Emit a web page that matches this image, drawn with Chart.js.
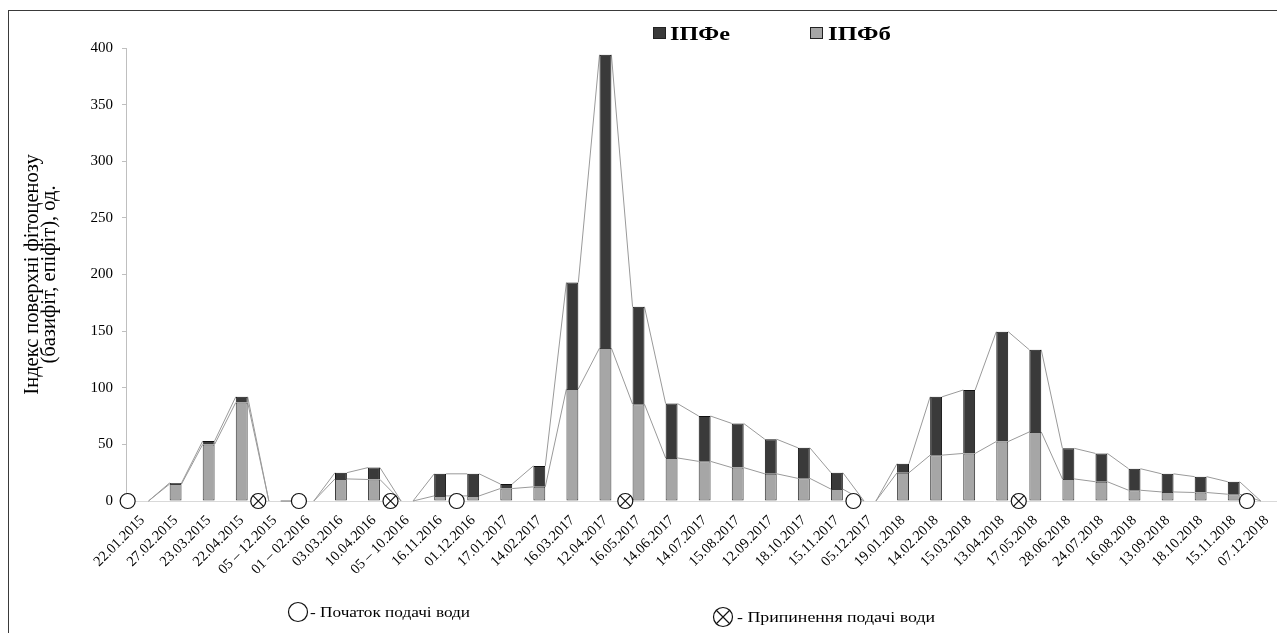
<!DOCTYPE html>
<html>
<head>
<meta charset="utf-8">
<title>Індекс поверхні фітоценозу</title>
<script src="https://cdn.jsdelivr.net/npm/chart.js@4/dist/chart.umd.min.js"></script>
<style>
  html, body { margin: 0; padding: 0; background: #fff; overflow: hidden; }
  #wrap { position: relative; width: 1277px; height: 633px; overflow: hidden; background: #fff; }
  #wrap canvas { position: absolute; left: 0; top: 0; }
  #frame {
    position: absolute; left: 8px; top: 10px; right: -20px; bottom: -20px;
    border-left: 1.5px solid #3a3a3a; border-top: 1.5px solid #3a3a3a;
    pointer-events: none;
  }
</style>
</head>
<body>
<div id="wrap">
  <canvas id="chart" width="1292" height="633"></canvas>
  <div id="frame"></div>
</div>
<script>
// Sampling dates (x categories)
const dates = [
  '22.01.2015', '27.02.2015', '23.03.2015', '22.04.2015', '05 – 12.2015',
  '01 – 02.2016', '03.03.2016', '10.04.2016', '05 – 10.2016', '16.11.2016',
  '01.12.2016', '17.01.2017', '14.02.2017', '16.03.2017', '12.04.2017',
  '16.05.2017', '14.06.2017', '14.07.2017', '15.08.2017', '12.09.2017',
  '18.10.2017', '15.11.2017', '05.12.2017', '19.01.2018', '14.02.2018',
  '15.03.2018', '13.04.2018', '17.05.2018', '28.06.2018', '24.07.2018',
  '16.08.2018', '13.09.2018', '18.10.2018', '15.11.2018', '07.12.2018'
];

// Basiphyton surface index (lower part of each column)
const basiphyton = [
  0, 15, 50, 87, 0,
  0, 19.5, 19, 0, 4.5,
  4.5, 11, 12.5, 99, 135,
  85.5, 38, 35, 29.5, 24,
  20, 10.5, 0, 25, 40.5,
  42, 52.5, 61, 19.5, 17,
  9.5, 8, 7.5, 6, 0
];

// Epiphyton surface index (upper part of each column)
const epiphyton = [
  0, 1, 3, 5, 0,
  0, 5.5, 10.5, 0, 19.5,
  19.5, 4, 18.5, 94, 259,
  86, 48, 40, 39, 30.5,
  27, 14.5, 0, 8, 51.5,
  56, 97, 72.5, 27, 25,
  19, 16, 14, 11, 0
];

// Value axis ticks
const yTicks = [0, 50, 100, 150, 200, 250, 300, 350, 400];

// Water supply events, in category-index units along the date axis
const waterStartAt = [-0.45, 4.73, 9.5, 21.5, 33.4];
const waterStopAt = [3.5, 7.5, 14.6, 26.5];

const seriesNames = { epi: 'ІПФе', basi: 'ІПФб' };
const axisTitle = ['Індекс поверхні фітоценозу', '(базифіт, епіфіт), од.'];
const noteStart = '- Початок подачі води';
const noteStop = '- Припинення подачі води';

const COLOR_EPI = '#3a3a3a';
const COLOR_BASI = '#a6a6a6';
const SERIF = "'Liberation Serif', 'Times New Roman', serif";

// Draws text squeezed/stretched horizontally to a given width
function fitText(ctx, text, x, baseline, font, width) {
  ctx.save();
  ctx.font = font;
  const w = ctx.measureText(text).width;
  ctx.translate(x, baseline);
  ctx.scale(width / w, 1);
  ctx.textAlign = 'left';
  ctx.textBaseline = 'alphabetic';
  ctx.fillStyle = '#000';
  ctx.fillText(text, 0, 0);
  ctx.restore();
}

// Thin lines joining the tops of neighbouring columns of each series
const seriesLines = {
  id: 'seriesLines',
  beforeDatasetsDraw(chart) {
    const ctx = chart.ctx;
    ctx.save();
    ctx.strokeStyle = '#9a9a9a';
    ctx.lineWidth = 1;
    [0, 1].forEach(di => {
      const els = chart.getDatasetMeta(di).data;
      ctx.beginPath();
      for (let i = 0; i < els.length - 1; i++) {
        const a = els[i].getProps(['x', 'y', 'width'], true);
        const b = els[i + 1].getProps(['x', 'y', 'width'], true);
        ctx.moveTo(a.x + a.width / 2, a.y);
        ctx.lineTo(b.x - b.width / 2, b.y);
      }
      ctx.stroke();
    });
    ctx.restore();
  }
};

// Legend at the top and the symbol key below the chart
const keyPlugin = {
  id: 'keyPlugin',
  afterDraw(chart) {
    const ctx = chart.ctx;
    const items = [
      { ds: chart.data.datasets[1], bx: 653, tx: 670, tw: 60 },
      { ds: chart.data.datasets[0], bx: 810, tx: 828, tw: 63 }
    ];
    items.forEach(it => {
      ctx.save();
      ctx.fillStyle = it.ds.backgroundColor;
      ctx.strokeStyle = '#222';
      ctx.lineWidth = 1;
      ctx.fillRect(it.bx, 27, 13, 12);
      ctx.strokeRect(it.bx + 0.5, 27.5, 12, 11);
      ctx.restore();
      fitText(ctx, it.ds.label, it.tx, 40, 'bold 19px ' + SERIF, it.tw);
    });

    const r = 9.5;
    ctx.save();
    ctx.strokeStyle = '#111';
    ctx.lineWidth = 1.2;
    ctx.fillStyle = '#fff';
    ctx.beginPath(); ctx.arc(298, 612, r, 0, Math.PI * 2); ctx.fill(); ctx.stroke();
    ctx.beginPath(); ctx.arc(723, 617, r, 0, Math.PI * 2); ctx.fill(); ctx.stroke();
    const d = r * Math.SQRT1_2;
    ctx.beginPath();
    ctx.moveTo(723 - d, 617 - d); ctx.lineTo(723 + d, 617 + d);
    ctx.moveTo(723 - d, 617 + d); ctx.lineTo(723 + d, 617 - d);
    ctx.stroke();
    ctx.restore();
    fitText(ctx, noteStart, 310, 617, '15px ' + SERIF, 160);
    fitText(ctx, noteStop, 737, 622, '15px ' + SERIF, 198);
  }
};

const eventPoints = arr => arr.map(v => ({ x: v, y: 0 }));

const markerBase = {
  type: 'scatter',
  xAxisID: 'xm',
  yAxisID: 'ym',
  pointRadius: 7.5,
  pointBorderColor: '#111',
  pointBorderWidth: 1.2,
  clip: false
};

new Chart(document.getElementById('chart'), {
  type: 'bar',
  data: {
    labels: dates,
    datasets: [
      {
        label: seriesNames.basi,
        data: basiphyton,
        stack: 'columns',
        grouped: false,
        backgroundColor: COLOR_BASI,
        borderColor: '#3a3a3a',
        borderWidth: 1,
        borderSkipped: false,
        barPercentage: 0.36,
        categoryPercentage: 1.0
      },
      {
        label: seriesNames.epi,
        data: epiphyton,
        stack: 'columns',
        grouped: false,
        backgroundColor: COLOR_EPI,
        borderColor: '#111',
        borderWidth: 1,
        borderSkipped: 'start',
        barPercentage: 0.36,
        categoryPercentage: 1.0
      },
      Object.assign({}, markerBase, {
        label: 'start',
        data: eventPoints(waterStartAt),
        pointStyle: 'circle',
        pointBackgroundColor: '#fff',
        order: -1
      }),
      Object.assign({}, markerBase, {
        label: 'stop',
        data: eventPoints(waterStopAt),
        pointStyle: 'circle',
        pointBackgroundColor: '#fff',
        order: -1
      }),
      Object.assign({}, markerBase, {
        label: 'stop-cross',
        data: eventPoints(waterStopAt),
        pointStyle: 'crossRot',
        order: -2
      })
    ]
  },
  options: {
    responsive: false,
    devicePixelRatio: 1,
    animation: false,
    events: [],
    layout: { padding: { top: 48, left: 0, right: 0, bottom: 0 } },
    plugins: {
      legend: { display: false },
      tooltip: { enabled: false }
    },
    scales: {
      x: {
        type: 'category',
        stacked: true,
        offset: true,
        grid: { display: false, drawTicks: false },
        border: { display: true, color: '#d9d9d9', width: 1 },
        ticks: {
          autoSkip: false,
          minRotation: 45,
          maxRotation: 45,
          padding: 11,
          color: '#000',
          font: { family: SERIF, size: 14.5 }
        },
        afterFit(scale) { scale.height = 132; }
      },
      xm: {
        type: 'linear',
        position: 'bottom',
        offset: false,
        bounds: 'data',
        grace: 0,
        min: -0.5,
        max: dates.length - 0.5,
        grid: { display: false, drawTicks: false, offset: false },
        border: { display: false },
        ticks: { display: false },
        afterFit(scale) { scale.height = 0; }
      },
      y: {
        stacked: true,
        min: yTicks[0],
        max: yTicks[yTicks.length - 1],
        grid: { drawOnChartArea: false, drawTicks: true, tickLength: 4, color: '#bfbfbf' },
        border: { display: true, color: '#bfbfbf', width: 1 },
        ticks: {
          padding: 9,
          color: '#000',
          font: { family: SERIF, size: 15 }
        },
        afterBuildTicks(scale) { scale.ticks = yTicks.map(v => ({ value: v })); },
        title: {
          display: true,
          text: axisTitle,
          color: '#000',
          font: { family: SERIF, size: 20.5, lineHeight: 0.83 },
          padding: { top: 24.5, bottom: 0 }
        },
        afterFit(scale) { scale.width = 126; }
      },
      ym: {
        type: 'linear',
        display: false,
        min: yTicks[0],
        max: yTicks[yTicks.length - 1]
      }
    }
  },
  plugins: [seriesLines, keyPlugin]
});
</script>
</body>
</html>
